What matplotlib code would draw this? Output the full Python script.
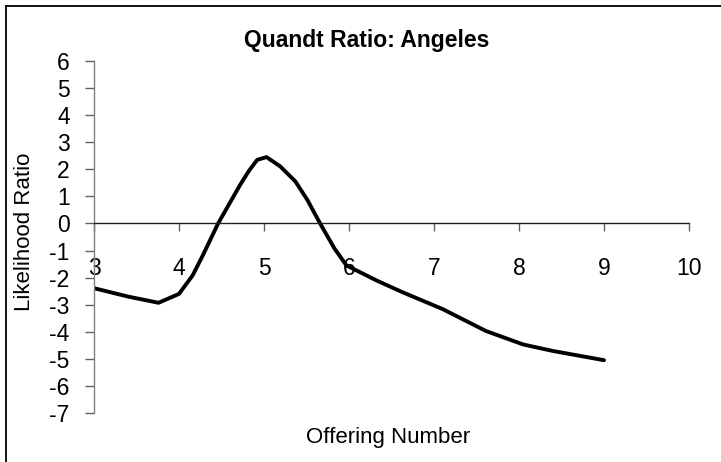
import matplotlib.pyplot as plt
from matplotlib.lines import Line2D

offering = [3.0, 3.4, 3.76, 4.0, 4.16, 4.28, 4.46, 4.72, 4.82, 4.92, 5.03,
            5.19, 5.37, 5.51, 5.66, 5.83, 5.97, 6.13, 6.32, 6.63, 7.1,
            7.61, 8.05, 8.4, 9.0]
ratio = [-2.39, -2.7, -2.93, -2.6, -1.92, -1.18, 0.0, 1.43, 1.93, 2.35, 2.45,
         2.11, 1.55, 0.87, 0.0, -0.93, -1.55, -1.8, -2.1, -2.54, -3.16,
         -3.97, -4.47, -4.71, -5.05]
x_ticks = [3, 4, 5, 6, 7, 8, 9, 10]
y_ticks = [6, 5, 4, 3, 2, 1, 0, -1, -2, -3, -4, -5, -6, -7]

plt.rcParams['font.family'] = ['Liberation Sans', 'DejaVu Sans']

fig = plt.figure(figsize=(7.21, 4.62), dpi=100)
ax = fig.add_axes([94/721, 1 - 413/462, (689 - 94)/721, (413 - 61)/462])

ax.plot(offering, ratio, color='black', linewidth=2.8, solid_capstyle='round',
        solid_joinstyle='round')

# spine position first, it resets the ticks
ax.spines['top'].set_visible(False)
ax.spines['right'].set_visible(False)
ax.spines['bottom'].set_position(('data', 0))
ax.spines['bottom'].set_color('#202020')
ax.spines['left'].set_color('#808080')
ax.spines['left'].set_linewidth(1.0)
ax.spines['bottom'].set_linewidth(1.0)

ax.set_xlim(3, 10)
ax.set_ylim(-7, 6)
ax.set_xticks(x_ticks)
ax.set_yticks(y_ticks)
ax.set_xticklabels([str(v) for v in x_ticks])
ax.set_yticklabels([str(v) for v in y_ticks])

ax.tick_params(axis='x', direction='out', length=6, width=1, color='#606060',
               pad=18, labelsize=16.5)
ax.tick_params(axis='y', direction='out', length=6.5, width=1, color='#606060',
               pad=11, labelsize=16.5)

fig.text(0.508, 0.913, 'Quandt Ratio: Angeles', fontsize=16.5, fontweight='bold',
         ha='center', va='center')
fig.text(388/721, 1 - 437/462, 'Offering Number', fontsize=16, ha='center', va='center')
fig.text(25/721, 1 - 232/462, 'Likelihood Ratio', fontsize=16, rotation=90,
         ha='center', va='center')

# outer frame (only top and left edges visible in the reference)
fig.add_artist(Line2D([6/721, 1], [1 - 6/462, 1 - 6/462], transform=fig.transFigure,
                      color='black', linewidth=1.3))
fig.add_artist(Line2D([6/721, 6/721], [0, 1 - 6/462], transform=fig.transFigure,
                      color='black', linewidth=1.3))

fig.savefig('out.png', dpi=100)
